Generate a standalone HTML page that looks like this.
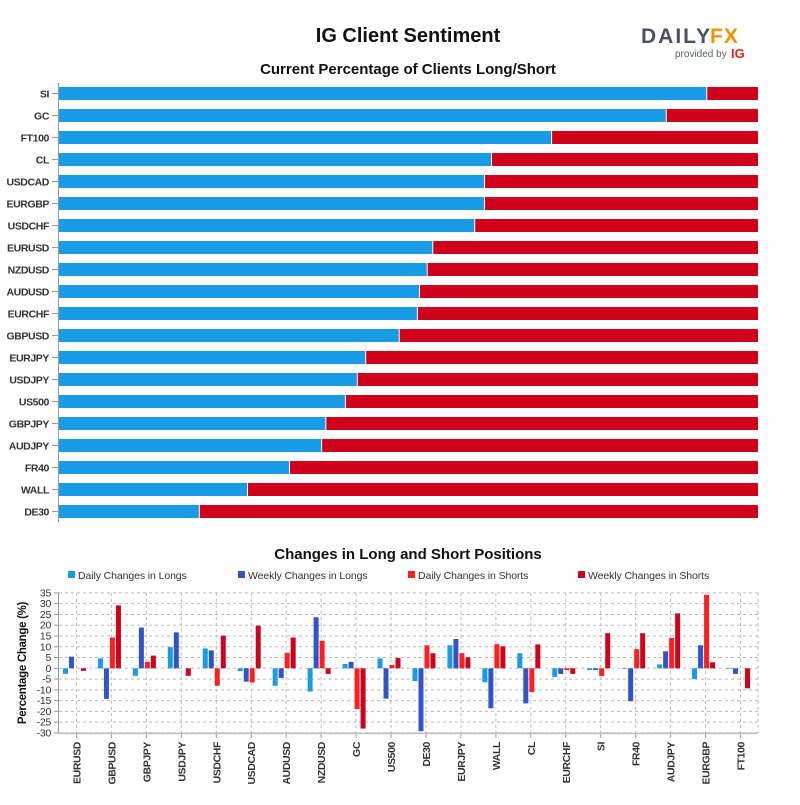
<!DOCTYPE html>
<html><head><meta charset="utf-8"><style>
body{margin:0;background:#fff;}
svg text{font-family:"Liberation Sans",sans-serif;}
</style></head><body>
<svg id="c" width="800" height="800" xmlns="http://www.w3.org/2000/svg">
<text x="408" y="42" text-anchor="middle" font-size="20" font-weight="bold" fill="#111">IG Client Sentiment</text>
<g>
<text x="641" y="43" font-size="21" font-weight="bold" fill="#4a5260" letter-spacing="2">DAILY</text>
<text x="710" y="43" font-size="21" font-weight="bold" fill="#f39200" letter-spacing="1">FX</text>
<text x="675" y="57" font-size="10" fill="#5a6270">provided by</text>
<text x="731" y="58" font-size="13" font-weight="bold" fill="#e1251b">IG</text>
</g>
<text x="408" y="74" text-anchor="middle" font-size="15" font-weight="bold" fill="#111">Current Percentage of Clients Long/Short</text>
<g id="topchart"></g>
<text x="408" y="559" text-anchor="middle" font-size="15" font-weight="bold" fill="#111">Changes in Long and Short Positions</text>
<g id="legend"></g>
<g id="bottom"></g>
</svg>
<script>
const topCats=["SI","GC","FT100","CL","USDCAD","EURGBP","USDCHF","EURUSD","NZDUSD","AUDUSD","EURCHF","GBPUSD","EURJPY","USDJPY","US500","GBPJPY","AUDJPY","FR40","WALL","DE30"];
const topLong=[92.6,86.8,70.4,61.8,60.8,60.8,59.4,53.4,52.6,51.5,51.2,48.6,43.8,42.6,40.9,38.1,37.5,32.9,26.9,20.0];
const botCats=["EURUSD","GBPUSD","GBPJPY","USDJPY","USDCHF","USDCAD","AUDUSD","NZDUSD","GC","US500","DE30","EURJPY","WALL","CL","EURCHF","SI","FR40","AUDJPY","EURGBP","FT100"];
const dailyLongs=[-2.6,4.6,-3.5,9.8,9.2,-1.3,-8.1,-10.8,2.0,4.6,-5.9,10.7,-6.5,7.0,-4.0,-0.8,-0.3,1.8,-5.0,-0.3];
const weeklyLongs=[5.4,-14.2,18.9,16.7,8.3,-6.2,-4.5,23.7,3.0,-14.1,-29.2,13.6,-18.6,-16.3,-2.6,-0.8,-15.3,7.9,10.7,-2.6];
const dailyShorts=[0,14.3,3.0,0,-8.1,-6.6,7.2,12.8,-18.9,1.5,10.7,7.0,11.2,-11.1,-0.8,-3.6,8.9,14.1,34.1,0];
const weeklyShorts=[-1.2,29.2,5.9,-3.5,15.2,19.8,14.3,-2.6,-28,4.8,7.0,5.1,10.2,11.1,-2.6,16.3,16.3,25.5,2.8,-9.3];
const yTicks=[35,30,25,20,15,10,5,0,-5,-10,-15,-20,-25,-30];
const seriesNames=["Daily Changes in Longs","Weekly Changes in Longs","Daily Changes in Shorts","Weekly Changes in Shorts"];
const colors=["#1a9be6","#2f55c9","#ff1f1f","#d0021b"];
const NS="http://www.w3.org/2000/svg";
function mk(tag,attrs,parent,txt){const e=document.createElementNS(NS,tag);for(const k in attrs)e.setAttribute(k,attrs[k]);if(txt!==undefined)e.textContent=txt;parent.appendChild(e);return e;}
const topG=document.getElementById('topchart');
const x0=59,x1=758,yTop=87,step=22;
const px=v=>x0+(x1-x0)*v/100;
const ax=mk('line',{x1:58.5,x2:58.5,y1:83,y2:522,stroke:'#999','stroke-width':1},topG);


topCats.forEach((c,i)=>{
 const y=yTop+i*step, xm=px(topLong[i]);
 const b=mk('rect',{x:x0,y:y,width:xm-x0,height:13,fill:'#1a9be6'},topG);
 
 
 const r=mk('rect',{x:xm+1,y:y,width:x1-xm-1,height:13,fill:'#d0011b'},topG);
 
 
 mk('line',{x1:52,x2:58,y1:y+6.5,y2:y+6.5,stroke:'#999'},topG);
 const t=mk('text',{x:49,y:y+10.5,'text-anchor':'end','font-size':10.5,'font-weight':'bold','letter-spacing':'-0.4',fill:'#333'},topG,c);
 
 
});
const lg=document.getElementById('legend');
const lx=[68,238,408,578];
seriesNames.forEach((n,i)=>{
 const g=mk('g',{},lg);
 
 
 mk('rect',{x:lx[i],y:571,width:7,height:7,fill:colors[i]},g);
 mk('text',{x:lx[i]+10,y:579,'font-size':10.5,'letter-spacing':'-0.1',fill:'#333'},g,n);
});
const bt=document.getElementById('bottom');
const bx0=59,bx1=758,by=v=>668.3-(v)*140/65;
const band=(bx1-bx0)/botCats.length;
yTicks.forEach(v=>{
 const y=by(v);
 mk('line',{x1:bx0,x2:bx1,y1:y,y2:y,stroke:'#bbb','stroke-dasharray':'3,3'},bt);
 mk('line',{x1:54,x2:bx0,y1:y,y2:y,stroke:'#999'},bt);
 const t=mk('text',{x:51,y:y+3.5,'text-anchor':'end','font-size':10.5,'letter-spacing':'-0.3',fill:'#333'},bt,v);
 
 
});
mk('line',{x1:bx1,x2:bx1,y1:by(35),y2:by(-30),stroke:'#bbb','stroke-dasharray':'3,3'},bt);
const yt=mk('text',{x:0,y:0,transform:'translate(26,663) rotate(-90)','text-anchor':'middle','font-size':11.5,'font-weight':'bold','letter-spacing':'-0.3',fill:'#111'},bt,'Percentage Change (%)');


const series=[dailyLongs,weeklyLongs,dailyShorts,weeklyShorts];
botCats.forEach((c,i)=>{
 const cx=bx0+band*(i+0.5);
 mk('line',{x1:cx,x2:cx,y1:by(35),y2:by(-30),stroke:'#bbb','stroke-dasharray':'3,3'},bt);
 mk('line',{x1:cx,x2:cx,y1:by(-30),y2:by(-30)+5,stroke:'#999'},bt);
 series.forEach((s,k)=>{
  const v=s[i]; if(v===0)return;
  const y=Math.min(by(v),by(0)),h=Math.abs(by(v)-by(0));
  const r=mk('rect',{x:cx-13.5+k*6,y:y,width:5,height:h,fill:colors[k]},bt);
  
  
 });
 const t=mk('text',{x:0,y:0,transform:`translate(${cx+4},742) rotate(-90)`,'text-anchor':'end','font-size':10.5,'font-weight':'bold','letter-spacing':'-0.4',fill:'#333'},bt,c);
 
 
});
mk('line',{x1:58.5,x2:58.5,y1:by(35),y2:by(-30),stroke:'#999'},bt);
mk('line',{x1:bx0,x2:bx1,y1:by(-30)+0.5,y2:by(-30)+0.5,stroke:'#bbb','stroke-width':1.5},bt);
</script>
</body></html>
